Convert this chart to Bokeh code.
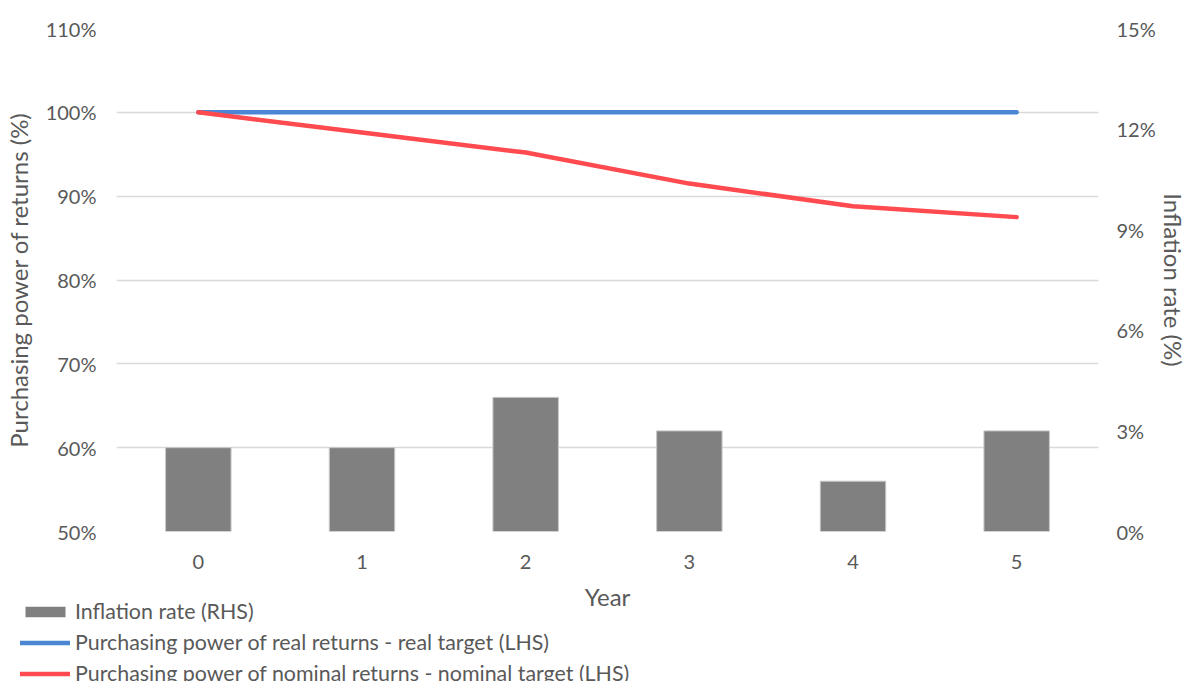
from bokeh.plotting import figure
from bokeh.layouts import column
from bokeh.models import Range1d, LinearAxis, FixedTicker, PrintfTickFormatter, Legend, LegendItem, ColumnDataSource
from bokeh.embed import file_html
from bokeh.resources import INLINE

years = [0, 1, 2, 3, 4, 5]
inflation = [2.5, 2.5, 4.0, 3.0, 1.5, 3.0]
real_pp = [100, 100, 100, 100, 100, 100]
nominal_pp = [100, 97.6, 95.2, 91.5, 88.8, 87.5]
left_ticks = [50, 60, 70, 80, 90, 100, 110]
right_ticks = [0, 3, 6, 9, 12, 15]
series_names = ["Inflation rate (RHS)",
                "Purchasing power of real returns - real target (LHS)",
                "Purchasing power of nominal returns - nominal target (LHS)"]

FONT = "Lato"
TXT = "#595959"
GRID = "#d9d9d9"
BAR_C = "#808080"
BLUE_C = "#4a86d3"
RED_C = "#ff4b4f"

src = ColumnDataSource(dict(year=years, infl=inflation, real=real_pp, nominal=nominal_pp))

p = figure(width=1190, height=681, output_backend="svg", toolbar_location=None,
           x_range=Range1d(-0.5, 5.5), y_range=Range1d(50, 110),
           min_border_left=116, min_border_right=92, min_border_top=28, min_border_bottom=150)
p.frame_align = False
p.outline_line_color = None
p.background_fill_color = "white"
p.border_fill_color = "white"

p.extra_y_ranges = {"infl": Range1d(0, 15)}

p.vbar(x="year", top="infl", bottom=0, width=0.4, y_range_name="infl", source=src,
       fill_color=BAR_C, line_color="#c8c8c8", line_width=1)
p.line("year", "real", source=src, line_color=BLUE_C, line_width=4.5, line_cap="round")
p.line("year", "nominal", source=src, line_color=RED_C, line_width=4.5, line_cap="round", line_join="round")

p.xaxis.ticker = FixedTicker(ticks=years)
p.xaxis.axis_label = "Year"
p.yaxis.ticker = FixedTicker(ticks=left_ticks)
p.yaxis.formatter = PrintfTickFormatter(format="%d%%")
p.yaxis.axis_label = "Purchasing power of returns (%)"

ry = LinearAxis(y_range_name="infl", ticker=FixedTicker(ticks=right_ticks),
                formatter=PrintfTickFormatter(format="%d%%"), axis_label="Inflation rate (%)")
p.add_layout(ry, "right")

for ax in p.axis:
    ax.axis_line_color = None
    ax.major_tick_line_color = None
    ax.minor_tick_line_color = None
    ax.major_tick_out = 0
    ax.major_tick_in = 0
    ax.minor_tick_out = 0
    ax.minor_tick_in = 0
    ax.major_label_text_font = FONT
    ax.major_label_text_font_size = "20px"
    ax.major_label_text_color = TXT
    ax.axis_label_text_font = FONT
    ax.axis_label_text_font_size = "24px"
    ax.axis_label_text_font_style = "normal"
    ax.axis_label_text_color = TXT

p.xaxis.major_label_standoff = 23
p.xaxis.axis_label_standoff = 10
p.yaxis[0].major_label_standoff = 20
p.yaxis[0].axis_label_standoff = 10
ry.major_label_standoff = 18
ry.axis_label_standoff = 0

p.xgrid.grid_line_color = None
p.ygrid.grid_line_color = GRID
p.ygrid.grid_line_width = 1.5
p.ygrid.ticker = FixedTicker(ticks=left_ticks)

# Legend overlay figure: same series, ranges set so only the legend keys show
lf = figure(width=1190, height=90, output_backend="svg", toolbar_location=None,
            x_range=Range1d(1000, 1001), y_range=Range1d(1000, 1001),
            x_axis_location=None, y_axis_location=None,
            min_border=0, margin=(-90, 0, 0, 0))
lf.frame_align = False
lf.grid.visible = False
lf.outline_line_color = None
lf.background_fill_color = None
lf.border_fill_color = None
k_bar = lf.vbar(x="year", top="infl", width=0.4, source=src, fill_color=BAR_C, line_color=None)
k_blue = lf.line("year", "real", source=src, line_color=BLUE_C, line_width=4.5, line_cap="round")
k_red = lf.line("year", "nominal", source=src, line_color=RED_C, line_width=4.5, line_cap="round")

legend = Legend(items=[
    LegendItem(label=series_names[0], renderers=[k_bar]),
    LegendItem(label=series_names[1], renderers=[k_blue]),
    LegendItem(label=series_names[2], renderers=[k_red]),
], location=(20, -5), orientation="vertical")
legend.border_line_color = None
legend.background_fill_alpha = 0
legend.padding = 0
legend.margin = 0
legend.spacing = 5
legend.glyph_width = 50
legend.glyph_height = 13
legend.label_height = 25
legend.label_standoff = 5
legend.label_text_font = FONT
legend.label_text_font_size = "21.4px"
legend.label_text_color = TXT
lf.add_layout(legend, "center")

layout = column(p, lf, spacing=0)
open("out.html", "w").write(file_html(layout, INLINE))
